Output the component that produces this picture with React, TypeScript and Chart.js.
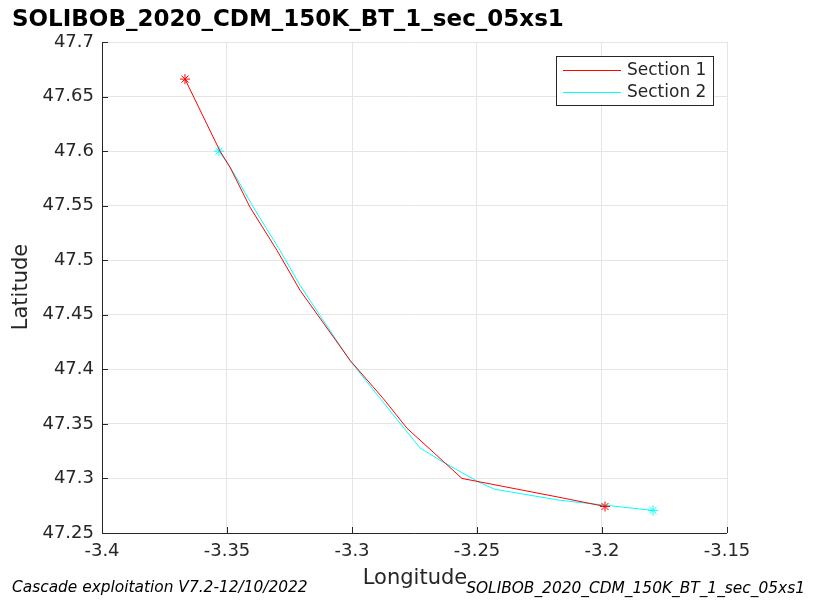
import React, { useEffect, useRef } from "react";
import { Chart, registerables } from "chart.js";

Chart.register(...registerables);

const titleText = "SOLIBOB_2020_CDM_150K_BT_1_sec_05xs1";
const footerLeft = "Cascade exploitation V7.2-12/10/2022";
const footerRight = "SOLIBOB_2020_CDM_150K_BT_1_sec_05xs1";
const xLabel = "Longitude";
const yLabel = "Latitude";

const xTicks = [-3.4, -3.35, -3.3, -3.25, -3.2, -3.15];
const yTicks = [47.25, 47.3, 47.35, 47.4, 47.45, 47.5, 47.55, 47.6, 47.65, 47.7];

const section1Lon = [-3.3668, -3.3528, -3.3488, -3.3408, -3.330, -3.3208, -3.3008, -3.2876, -3.278, -3.256, -3.2168, -3.1988];
const section1Lat = [47.666, 47.600, 47.5853, 47.5486, 47.509, 47.4725, 47.4083, 47.3735, 47.346, 47.300, 47.2826, 47.2743];

const section2Lon = [-3.3532, -3.348, -3.3388, -3.3288, -3.3208, -3.3008, -3.2848, -3.2728, -3.2648, -3.2492, -3.2428, -3.2168, -3.1796];
const section2Lat = [47.600, 47.5825, 47.546, 47.509, 47.477, 47.408, 47.362, 47.328, 47.3167, 47.2965, 47.290, 47.280, 47.2707];

const seriesNames = ["Section 1", "Section 2"];
const seriesColors = ["#ff0000", "#00ffff"];

const FONT = "'DejaVu Sans', sans-serif";
const TXT = "#262626";

function fmt(v: number) {
  return String(parseFloat(v.toFixed(4)));
}

function toPts(xs: number[], ys: number[]) {
  return xs.map((x, i) => ({ x, y: ys[i] }));
}

function endRadius(n: number) {
  return (ctx: any) => (ctx.dataIndex === 0 || ctx.dataIndex === n - 1 ? 5 : 0);
}

export default function App() {
  const ref = useRef<HTMLCanvasElement>(null);
  useEffect(() => {
    const canvas = ref.current!;
    const overlay = {
      id: "overlay",
      afterDraw(chart: any) {
        const ctx = chart.ctx;
        const ca = chart.chartArea;
        ctx.save();
        // title
        ctx.fillStyle = "#000";
        ctx.font = `bold 23px ${FONT}`;
        ctx.textAlign = "left";
        ctx.textBaseline = "middle";
        ctx.fillText(titleText, 12, 20);
        // axis labels
        ctx.fillStyle = TXT;
        ctx.font = `21px ${FONT}`;
        ctx.textAlign = "center";
        ctx.fillText(xLabel, 415, 579);
        ctx.save();
        ctx.translate(22, 287);
        ctx.rotate(-Math.PI / 2);
        ctx.fillText(yLabel, 0, 0);
        ctx.restore();
        // footers
        ctx.font = `italic 15.4px ${FONT}`;
        ctx.textAlign = "left";
        ctx.fillStyle = "#000";
        ctx.fillText(footerLeft, 12, 588);
        ctx.textAlign = "right";
        ctx.fillText(footerRight, 805, 589);
        // axes lines
        ctx.strokeStyle = TXT;
        ctx.lineWidth = 1;
        ctx.beginPath();
        ctx.moveTo(ca.left + 0.5, ca.top);
        ctx.lineTo(ca.left + 0.5, ca.bottom + 0.5);
        ctx.lineTo(ca.right, ca.bottom + 0.5);
        ctx.stroke();
        // inner ticks
        const xs = chart.scales.x;
        const ys = chart.scales.y;
        ctx.beginPath();
        xTicks.forEach((t) => {
          const px = Math.round(xs.getPixelForValue(t)) + 0.5;
          ctx.moveTo(px, ca.bottom);
          ctx.lineTo(px, ca.bottom - 6);
        });
        yTicks.forEach((t) => {
          const py = Math.round(ys.getPixelForValue(t)) + 0.5;
          ctx.moveTo(ca.left, py);
          ctx.lineTo(ca.left + 6, py);
        });
        ctx.stroke();
        // legend
        const lx = 556, ly = 56, lw = 157, lh = 49;
        ctx.fillStyle = "#fff";
        ctx.fillRect(lx, ly, lw, lh);
        ctx.strokeStyle = TXT;
        ctx.strokeRect(lx + 0.5, ly + 0.5, lw, lh);
        ctx.font = `17px ${FONT}`;
        ctx.textAlign = "left";
        ctx.textBaseline = "middle";
        seriesNames.forEach((name, i) => {
          const yy = ly + 14 + i * 22;
          ctx.strokeStyle = seriesColors[i];
          ctx.lineWidth = 1;
          ctx.beginPath();
          ctx.moveTo(lx + 7, yy + 0.5);
          ctx.lineTo(lx + 65, yy + 0.5);
          ctx.stroke();
          ctx.fillStyle = TXT;
          ctx.fillText(name, lx + 71, yy + 1);
        });
        ctx.restore();
      },
    };
    const chart = new Chart(canvas, {
      type: "scatter",
      data: {
        datasets: [
          {
            label: seriesNames[0],
            data: toPts(section1Lon, section1Lat),
            showLine: true,
            borderColor: seriesColors[0],
            backgroundColor: seriesColors[0],
            borderWidth: 1,
            pointStyle: "star",
            pointRadius: endRadius(section1Lon.length),
            pointBorderWidth: 1,
            pointBorderColor: seriesColors[0],
          },
          {
            label: seriesNames[1],
            data: toPts(section2Lon, section2Lat),
            showLine: true,
            borderColor: seriesColors[1],
            backgroundColor: seriesColors[1],
            borderWidth: 1,
            pointStyle: "star",
            pointRadius: endRadius(section2Lon.length),
            pointBorderWidth: 1,
            pointBorderColor: seriesColors[1],
          },
        ],
      },
      options: {
        animation: false,
        responsive: false,
        layout: { padding: { left: 0, top: 42, right: 86, bottom: 0 } },
        plugins: { legend: { display: false }, tooltip: { enabled: false }, title: { display: false } },
        scales: {
          x: {
            type: "linear",
            min: -3.4,
            max: -3.15,
            afterBuildTicks: (s: any) => {
              s.ticks = xTicks.map((v) => ({ value: v }));
            },
            afterFit: (s: any) => {
              s.height = 67;
            },
            grid: { color: "#e5e5e5", drawTicks: false },
            border: { display: false },
            ticks: {
              callback: (v: any) => fmt(Number(v)),
              color: TXT,
              font: { family: FONT, size: 18 },
              padding: 8,
              maxRotation: 0,
              autoSkip: false,
            },
          },
          y: {
            type: "linear",
            min: 47.25,
            max: 47.7,
            afterBuildTicks: (s: any) => {
              s.ticks = yTicks.map((v) => ({ value: v }));
            },
            afterFit: (s: any) => {
              s.width = 102;
            },
            grid: { color: "#e5e5e5", drawTicks: false },
            border: { display: false },
            ticks: {
              callback: (v: any) => fmt(Number(v)),
              color: TXT,
              font: { family: FONT, size: 18 },
              padding: 8,
              autoSkip: false,
            },
          },
        },
      },
      plugins: [overlay],
    } as any);
    return () => chart.destroy();
  }, []);
  return (
    <div style={{ position: "fixed", left: 0, top: 0, width: 813, height: 600, background: "#fff" }}>
      <canvas ref={ref} width={813} height={600} style={{ display: "block" }} />
    </div>
  );
}
